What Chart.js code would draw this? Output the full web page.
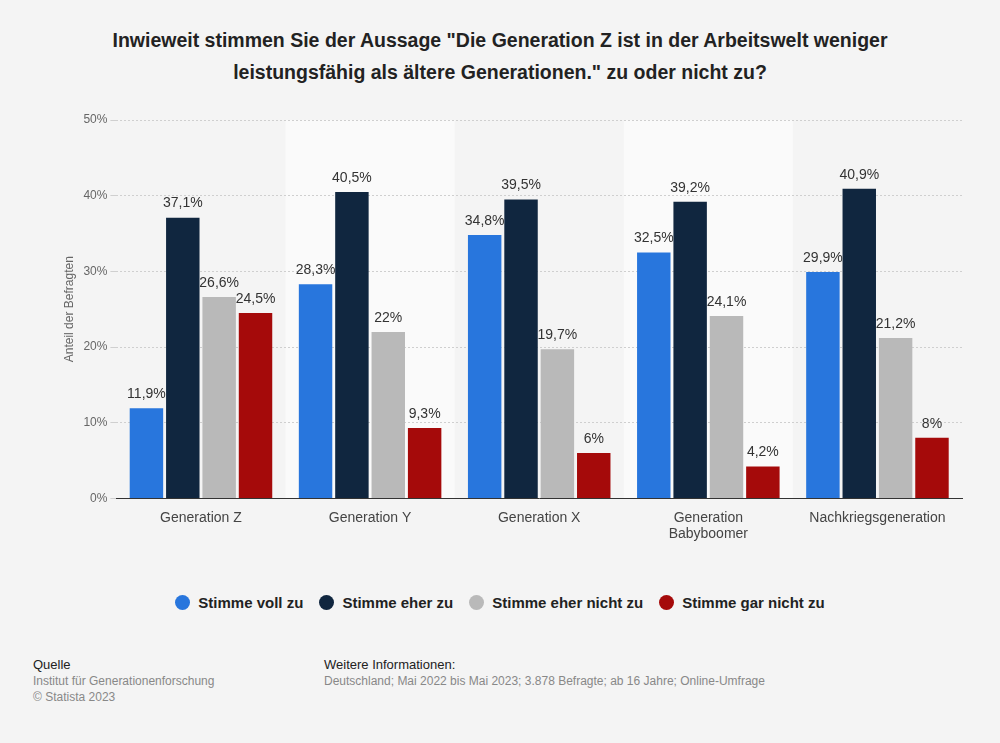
<!DOCTYPE html>
<html><head><meta charset="utf-8">
<script src="https://cdn.jsdelivr.net/npm/chart.js@4/dist/chart.umd.min.js"></script>
<style>
body{margin:0;background:#f4f4f4;font-family:"Liberation Sans",Arial,sans-serif;width:1000px;height:743px;position:relative;overflow:hidden}
#title{position:absolute;top:24px;left:60px;width:880px;text-align:center;font-weight:bold;font-size:19.5px;line-height:32px;color:#222}
#wrap{position:absolute;left:40px;top:105px;width:940px;height:441px}
#legend{position:absolute;top:594px;left:0;width:1000px;text-align:center;font-weight:bold;font-size:15px;color:#222}
#legend span{display:inline-block;margin:0 8px}
#legend i{display:inline-block;width:15px;height:15px;border-radius:50%;vertical-align:-2px;margin-right:8px}
.f{position:absolute;font-size:12px;color:#888;line-height:16px}
.f b{font-weight:normal;color:#222;font-size:13px}
</style></head><body>
<div id="title">Inwieweit stimmen Sie der Aussage "Die Generation Z ist in der Arbeitswelt weniger leistungsfähig als ältere Generationen." zu oder nicht zu?</div>
<div id="wrap"><canvas id="c"></canvas></div>
<div id="legend"></div>
<div class="f" style="left:33px;top:657px"><b>Quelle</b><br>Institut für Generationenforschung<br>© Statista 2023</div>
<div class="f" style="left:324px;top:657px"><b>Weitere Informationen:</b><br>Deutschland; Mai 2022 bis Mai 2023; 3.878 Befragte; ab 16 Jahre; Online-Umfrage</div>
<script>
const categories=[["Generation Z"],["Generation Y"],["Generation X"],["Generation","Babyboomer"],["Nachkriegsgeneration"]];
const seriesNames=["Stimme voll zu","Stimme eher zu","Stimme eher nicht zu","Stimme gar nicht zu"];
const vollZu=[11.9,28.3,34.8,32.5,29.9];
const eherZu=[37.1,40.5,39.5,39.2,40.9];
const eherNicht=[26.6,22,19.7,24.1,21.2];
const garNicht=[24.5,9.3,6,4.2,8];
const colors=["#2876dd","#10263f","#b9b9b9","#a50a0a"];
const all=[vollZu,eherZu,eherNicht,garNicht];
document.getElementById('legend').innerHTML=seriesNames.map((n,i)=>`<span><i style="background:${colors[i]}"></i>${n}</span>`).join('');
const fmt=v=>String(v).replace('.',',')+'%';
const bands={id:'bands',beforeDraw(ch){const {ctx,chartArea:a,scales:{x}}=ch;const w=x.width/categories.length;ctx.save();ctx.fillStyle='#fafafa';[1,3].forEach(i=>ctx.fillRect(x.left+i*w,a.top,w,a.bottom-a.top));ctx.restore();}};
const labels={id:'labels',afterDatasetsDraw(ch){const ctx=ch.ctx;ctx.save();ctx.font='14px "Liberation Sans",Arial';ctx.fillStyle='#333';ctx.textAlign='center';ctx.textBaseline='bottom';ch.data.datasets.forEach((d,i)=>{ch.getDatasetMeta(i).data.forEach((b,j)=>ctx.fillText(fmt(d.data[j]),b.x,b.y-7));});ctx.restore();}};
new Chart(document.getElementById('c'),{type:'bar',
data:{labels:categories,datasets:all.map((d,i)=>({label:seriesNames[i],data:d,backgroundColor:colors[i],categoryPercentage:0.86,barPercentage:0.92}))},
options:{responsive:true,maintainAspectRatio:false,animation:false,layout:{padding:{top:15,right:18,left:18}},
plugins:{legend:{display:false},tooltip:{enabled:false}},
scales:{x:{grid:{display:false},border:{color:'#333'},ticks:{color:'#444',font:{size:14,family:'"Liberation Sans",Arial'}}},
y:{min:0,max:50,ticks:{stepSize:10,callback:v=>v+'%',color:'#666',font:{size:12}},grid:{color:'#cfcfcf',tickLength:6},border:{display:false,dash:[2,2]},
title:{display:true,text:'Anteil der Befragten',color:'#666',font:{size:12}}}}},
plugins:[bands,labels]});
</script></body></html>
